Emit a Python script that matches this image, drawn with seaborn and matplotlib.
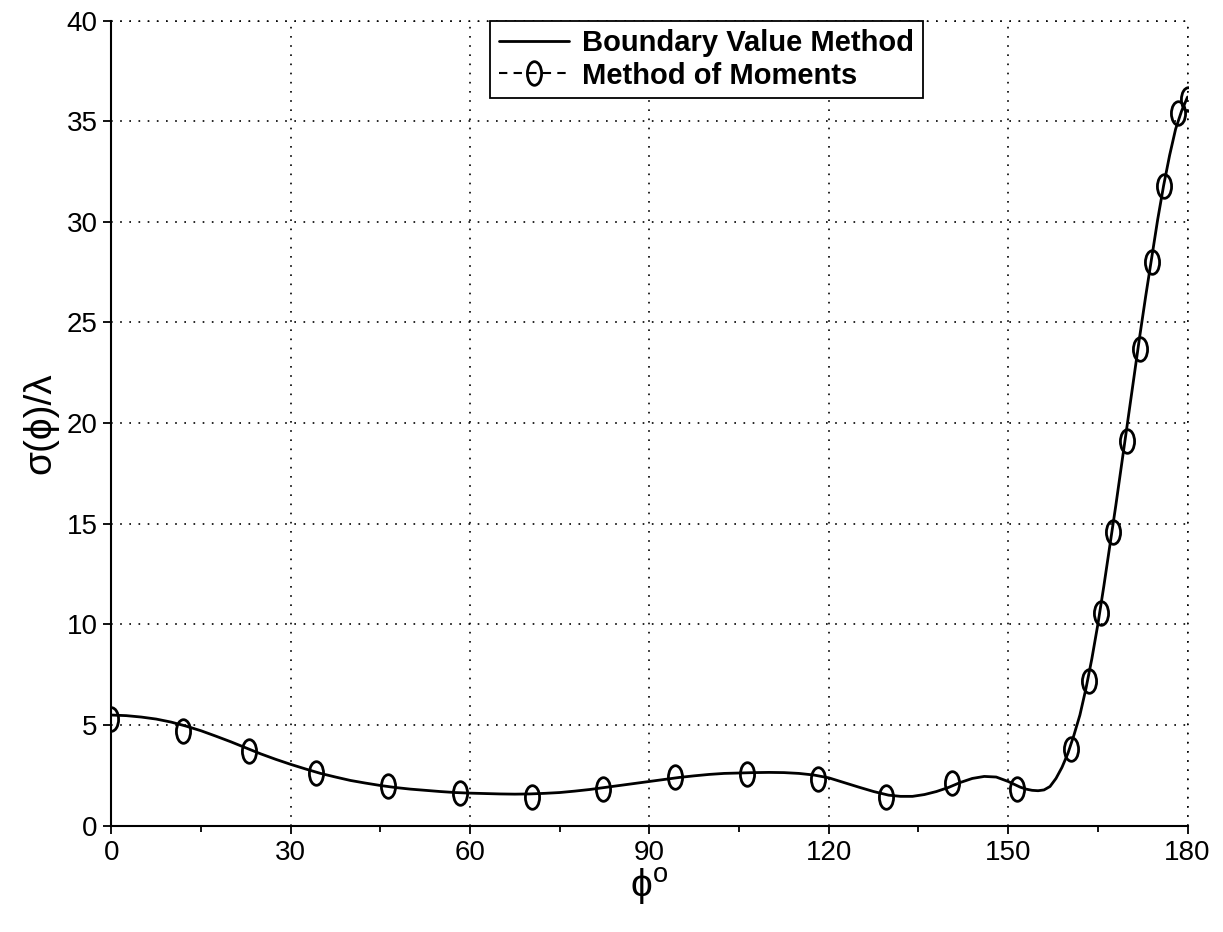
import numpy as np
import matplotlib
matplotlib.use("Agg")
import matplotlib.pyplot as plt
import seaborn as sns
import pandas as pd
from matplotlib.path import Path
from matplotlib.lines import Line2D
from matplotlib.ticker import MultipleLocator

# Boundary Value Method (solid curve)
bvm_phi = [0, 2.5, 5, 7.5, 10, 12.5, 15, 17.5, 20, 22.5, 25, 27.5, 30, 32.5, 35, 37.5,
           40, 42.5, 45, 47.5, 50, 52.5, 55, 57.5, 60, 62.5, 65, 67.5, 70, 72.5, 75,
           77.5, 80, 82.5, 85, 87.5, 90, 92.5, 95, 97.5, 100, 102.5, 105, 107.5, 110,
           112.5, 115, 117.5, 120, 122.5, 125, 127.5, 130, 132, 134, 136, 138, 140,
           142, 144, 146, 148, 150, 152, 153, 154, 155, 156, 157, 158, 159, 160, 161,
           162, 163, 164, 165, 166, 167, 168, 169, 170, 171, 172, 173, 174, 175, 176,
           177, 178, 179, 180]
bvm_sigma = [5.5, 5.47, 5.4, 5.3, 5.15, 4.95, 4.72, 4.45, 4.17, 3.87, 3.57, 3.3, 3.05,
             2.82, 2.6, 2.42, 2.25, 2.12, 2.0, 1.9, 1.82, 1.76, 1.7, 1.65, 1.62, 1.6,
             1.58, 1.57, 1.58, 1.61, 1.65, 1.72, 1.8, 1.9, 2.0, 2.1, 2.2, 2.3, 2.4,
             2.48, 2.55, 2.6, 2.62, 2.64, 2.65, 2.64, 2.6, 2.52, 2.38, 2.15, 1.92, 1.7,
             1.52, 1.46, 1.46, 1.55, 1.7, 1.9, 2.15, 2.35, 2.45, 2.42, 2.2, 1.92, 1.82,
             1.76, 1.74, 1.78, 1.95, 2.35, 2.9, 3.6, 4.5, 5.5, 6.8, 8.3, 10.0, 11.9,
             13.9, 15.9, 18.0, 20.1, 22.2, 24.3, 26.3, 28.2, 30.1, 31.8, 33.3, 34.6,
             35.5, 36.2]

# Method of Moments (markers)
mom_phi = [0, 12, 23, 34.3, 46.2, 58.4, 70.4, 82.3, 94.3, 106.4, 118.2, 129.6, 140.6,
           151.5, 160.5, 163.5, 165.6, 167.6, 169.9, 172.1, 174.1, 176.1, 178.4, 180]
mom_sigma = [5.3, 4.7, 3.7, 2.6, 1.95, 1.65, 1.45, 1.85, 2.4, 2.55, 2.3, 1.45, 2.1,
             1.85, 3.8, 7.2, 10.55, 14.6, 19.1, 23.7, 28.0, 31.8, 35.4, 36.1]

x_ticks = [0, 30, 60, 90, 120, 150, 180]
y_ticks = [0, 5, 10, 15, 20, 25, 30, 35, 40]

sns.set_theme(style="white")
plt.rcParams['font.family'] = ['Liberation Sans', 'DejaVu Sans']
plt.rcParams['mathtext.fontset'] = 'custom'
plt.rcParams['mathtext.rm'] = 'Liberation Sans'
plt.rcParams['text.color'] = 'black'
plt.rcParams['axes.labelcolor'] = 'black'
plt.rcParams['xtick.color'] = 'black'
plt.rcParams['ytick.color'] = 'black'

fig = plt.figure(figsize=(12.23, 9.32), dpi=100)
ax = fig.add_axes([0.091, 0.114, 0.880, 0.864])

df_bvm = pd.DataFrame({"phi": bvm_phi, "sigma": bvm_sigma})
df_mom = pd.DataFrame({"phi": mom_phi, "sigma": mom_sigma})

circ = Path.unit_circle()
ell = Path(circ.vertices * np.array([0.6, 1.0]), circ.codes)

grid_ls = (0, (1, 4.5))

sns.lineplot(data=df_bvm, x="phi", y="sigma", ax=ax, color="black", lw=2.0,
             estimator=None, sort=False)
ax.plot(df_mom["phi"], df_mom["sigma"], linestyle="none", marker=ell,
        markersize=17, markerfacecolor="none", markeredgecolor="black",
        markeredgewidth=2.0, zorder=3)

ax.set_xlim(0, 180)
ax.set_ylim(0, 40)
ax.set_xticks(x_ticks)
ax.set_yticks(y_ticks)
ax.xaxis.set_minor_locator(MultipleLocator(15))
ax.tick_params(axis="both", which="major", direction="out", length=6, width=1.3,
               labelsize=20, color="black", labelcolor="black",
               bottom=True, left=True, pad=4)
ax.tick_params(axis="x", which="minor", direction="out", length=4, width=1.3,
               bottom=True, color="black")
ax.grid(True, which="major", color="black", linestyle=grid_ls, linewidth=1.2)
for s in ["top", "right"]:
    ax.spines[s].set_visible(False)
for s in ["left", "bottom"]:
    ax.spines[s].set_color("black")
    ax.spines[s].set_linewidth(1.5)
ax.axhline(40, color="black", linestyle=grid_ls, linewidth=1.2, clip_on=False)
ax.axvline(180, color="black", linestyle=grid_ls, linewidth=1.2, clip_on=False)

ax.set_xlabel("ϕ$^{\\mathrm{o}}$", fontsize=28, labelpad=0)
ax.set_ylabel("σ(ϕ)/λ", fontsize=28, labelpad=6)

handles = [
    Line2D([], [], color="black", lw=2.0),
    Line2D([], [], color="black", lw=1.5, linestyle=(0, (4, 3)), marker=ell,
           markersize=17, markerfacecolor="none", markeredgewidth=2.0),
]
leg = ax.legend(handles, ["Boundary Value Method", "Method of Moments"],
                loc="upper left", bbox_to_anchor=(0.352, 1.0), borderaxespad=0,
                frameon=True, fancybox=False, edgecolor="black",
                prop={"weight": "bold", "size": 21}, handlelength=2.4,
                labelspacing=0.15, borderpad=0.3, handletextpad=0.45)
leg.get_frame().set_linewidth(1.3)
leg.get_frame().set_alpha(1)
for t in leg.get_texts():
    t.set_color("black")

fig.savefig("out.png", dpi=100)
